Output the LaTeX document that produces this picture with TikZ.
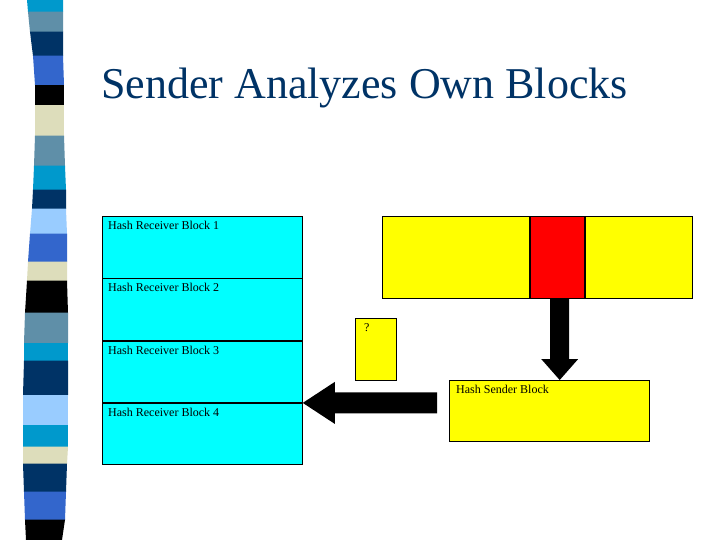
\documentclass[tikz,border=0pt]{standalone}
\usepackage{fontspec}
\setmainfont{Liberation Serif}
\usetikzlibrary{calc}
\definecolor{titlecolor}{HTML}{003366}
\definecolor{rcvcolor}{HTML}{00FFFF}
\definecolor{sndcolor}{HTML}{FFFF00}
\definecolor{hitcolor}{HTML}{FF0000}
% stripe colours
\definecolor{stripeA}{HTML}{0099CC}
\definecolor{stripeB}{HTML}{5F8FA8}
\definecolor{stripeC}{HTML}{003366}
\definecolor{stripeD}{HTML}{3366CC}
\definecolor{stripeE}{HTML}{DDDDBB}
\definecolor{stripeF}{HTML}{99CCFF}

\begin{document}
\begin{tikzpicture}[x=1pt, y=-1pt,
    block/.style={draw, line width=0.8pt, inner sep=0pt, anchor=north west},
    rblock/.style={block, fill=rcvcolor, minimum width=200pt, minimum height=61.5pt},
    sblock/.style={block, fill=sndcolor, minimum height=82pt},
    blocklabel/.style={anchor=north west, inner sep=0pt, xshift=6pt, yshift=-5pt,
        font=\fontsize{12}{14}\selectfont},
    blockarrow/.style={fill=black}]

    % Page
    \fill[white] (0,0) rectangle (720,540);
    \useasboundingbox (0,0) rectangle (720,540);

% Side stripe
    \foreach \ya/\yb/\la/\lb/\ra/\rb/\c in {
        0/12/27/28/63/63/stripeA, 12/32/28/30/63/63/stripeB,
        32/56/30/33/63/63/stripeC, 56/85/33/35/63/64/stripeD,
        85/105/35/35/64/64/black, 105/136/35/35/64/64/stripeE,
        136/166/35/34/64/65/stripeB, 166/190/34/33/65/66/stripeA,
        190/209/33/32/66/66/stripeC, 209/234/32/30/66/67/stripeF,
        234/262/30/28/67/67/stripeD, 262/281/28/27/67/67/stripeE,
        281/313/27/25/67/68/black, 313/343/25/24/68/68/stripeB,
        343/361/24/24/68/68/stripeA, 361/395/24/23/68/68/stripeC,
        395/425/23/23/68/68/stripeF, 425/447/23/23/68/68/stripeA,
        447/464/23/23/68/67/stripeE, 464/492/23/24/67/66/stripeC,
        492/520/24/25/66/65/stripeD, 520/540/25/26/65/62/black} {
        \fill[\c] (\la,\ya-0.3) -- (\ra,\ya-0.3) -- (\rb,\yb) -- (\lb,\yb) -- cycle;
    }

    % Title
    \node[anchor=base west, inner sep=0pt, text=titlecolor,
        font=\fontsize{44}{50}\selectfont] (title) at (101,99) {Sender Analyzes Own Blocks};

% Receiver hashes
    \node[rblock, label={[blocklabel]north west:Hash Receiver Block 1}] (r1) at (102,216) {};
    \node[rblock, label={[blocklabel]north west:Hash Receiver Block 2}] (r2) at (r1.south west) {};
    \node[rblock, label={[blocklabel]north west:Hash Receiver Block 3}] (r3) at (r2.south west) {};
    \node[rblock, label={[blocklabel]north west:Hash Receiver Block 4}] (r4) at (r3.south west) {};

% Sender file
    \node[sblock, minimum width=147pt] (sf1) at (382,216) {};
    \node[sblock, fill=hitcolor, minimum width=54pt] (hit) at (sf1.north east) {};
    \node[sblock, minimum width=107pt] (sf2) at (hit.north east) {};

    % Unknown block
    \node[block, fill=sndcolor, minimum width=41pt, minimum height=62pt,
        label={[blocklabel, xshift=3pt]north west:?}] (q) at (355,318) {};

    % Sender hash
    \node[block, fill=sndcolor, minimum width=200pt, minimum height=61pt,
        label={[blocklabel, xshift=1pt]north west:Hash Sender Block}] (snd) at (449,380) {};

% Arrows
    % down: hit block -> sender hash
    \coordinate (dtail) at ($(hit.south)+(2.5,0)$);
    \coordinate (dtip) at (dtail |- snd.north);
    \fill[blockarrow] ($(dtail)+(-9.5,0)$) -- ($(dtip)+(-9.5,-21)$) -- ($(dtip)+(-18.5,-21)$)
        -- (dtip) -- ($(dtip)+(18.5,-21)$) -- ($(dtip)+(9.5,-21)$) -- ($(dtail)+(9.5,0)$) -- cycle;

    % left: sender hash -> receiver hashes
    \coordinate (ltip) at (r3.south east);
    \coordinate (ltail) at ($(snd.west |- ltip)+(-12,0)$);
    \fill[blockarrow] (ltip) -- ($(ltip)+(32,-21)$) -- ($(ltip)+(32,-10.5)$) -- ($(ltail)+(0,-10.5)$)
        -- ($(ltail)+(0,10.5)$) -- ($(ltip)+(32,10.5)$) -- ($(ltip)+(32,21)$) -- cycle;

\end{tikzpicture}
\end{document}
